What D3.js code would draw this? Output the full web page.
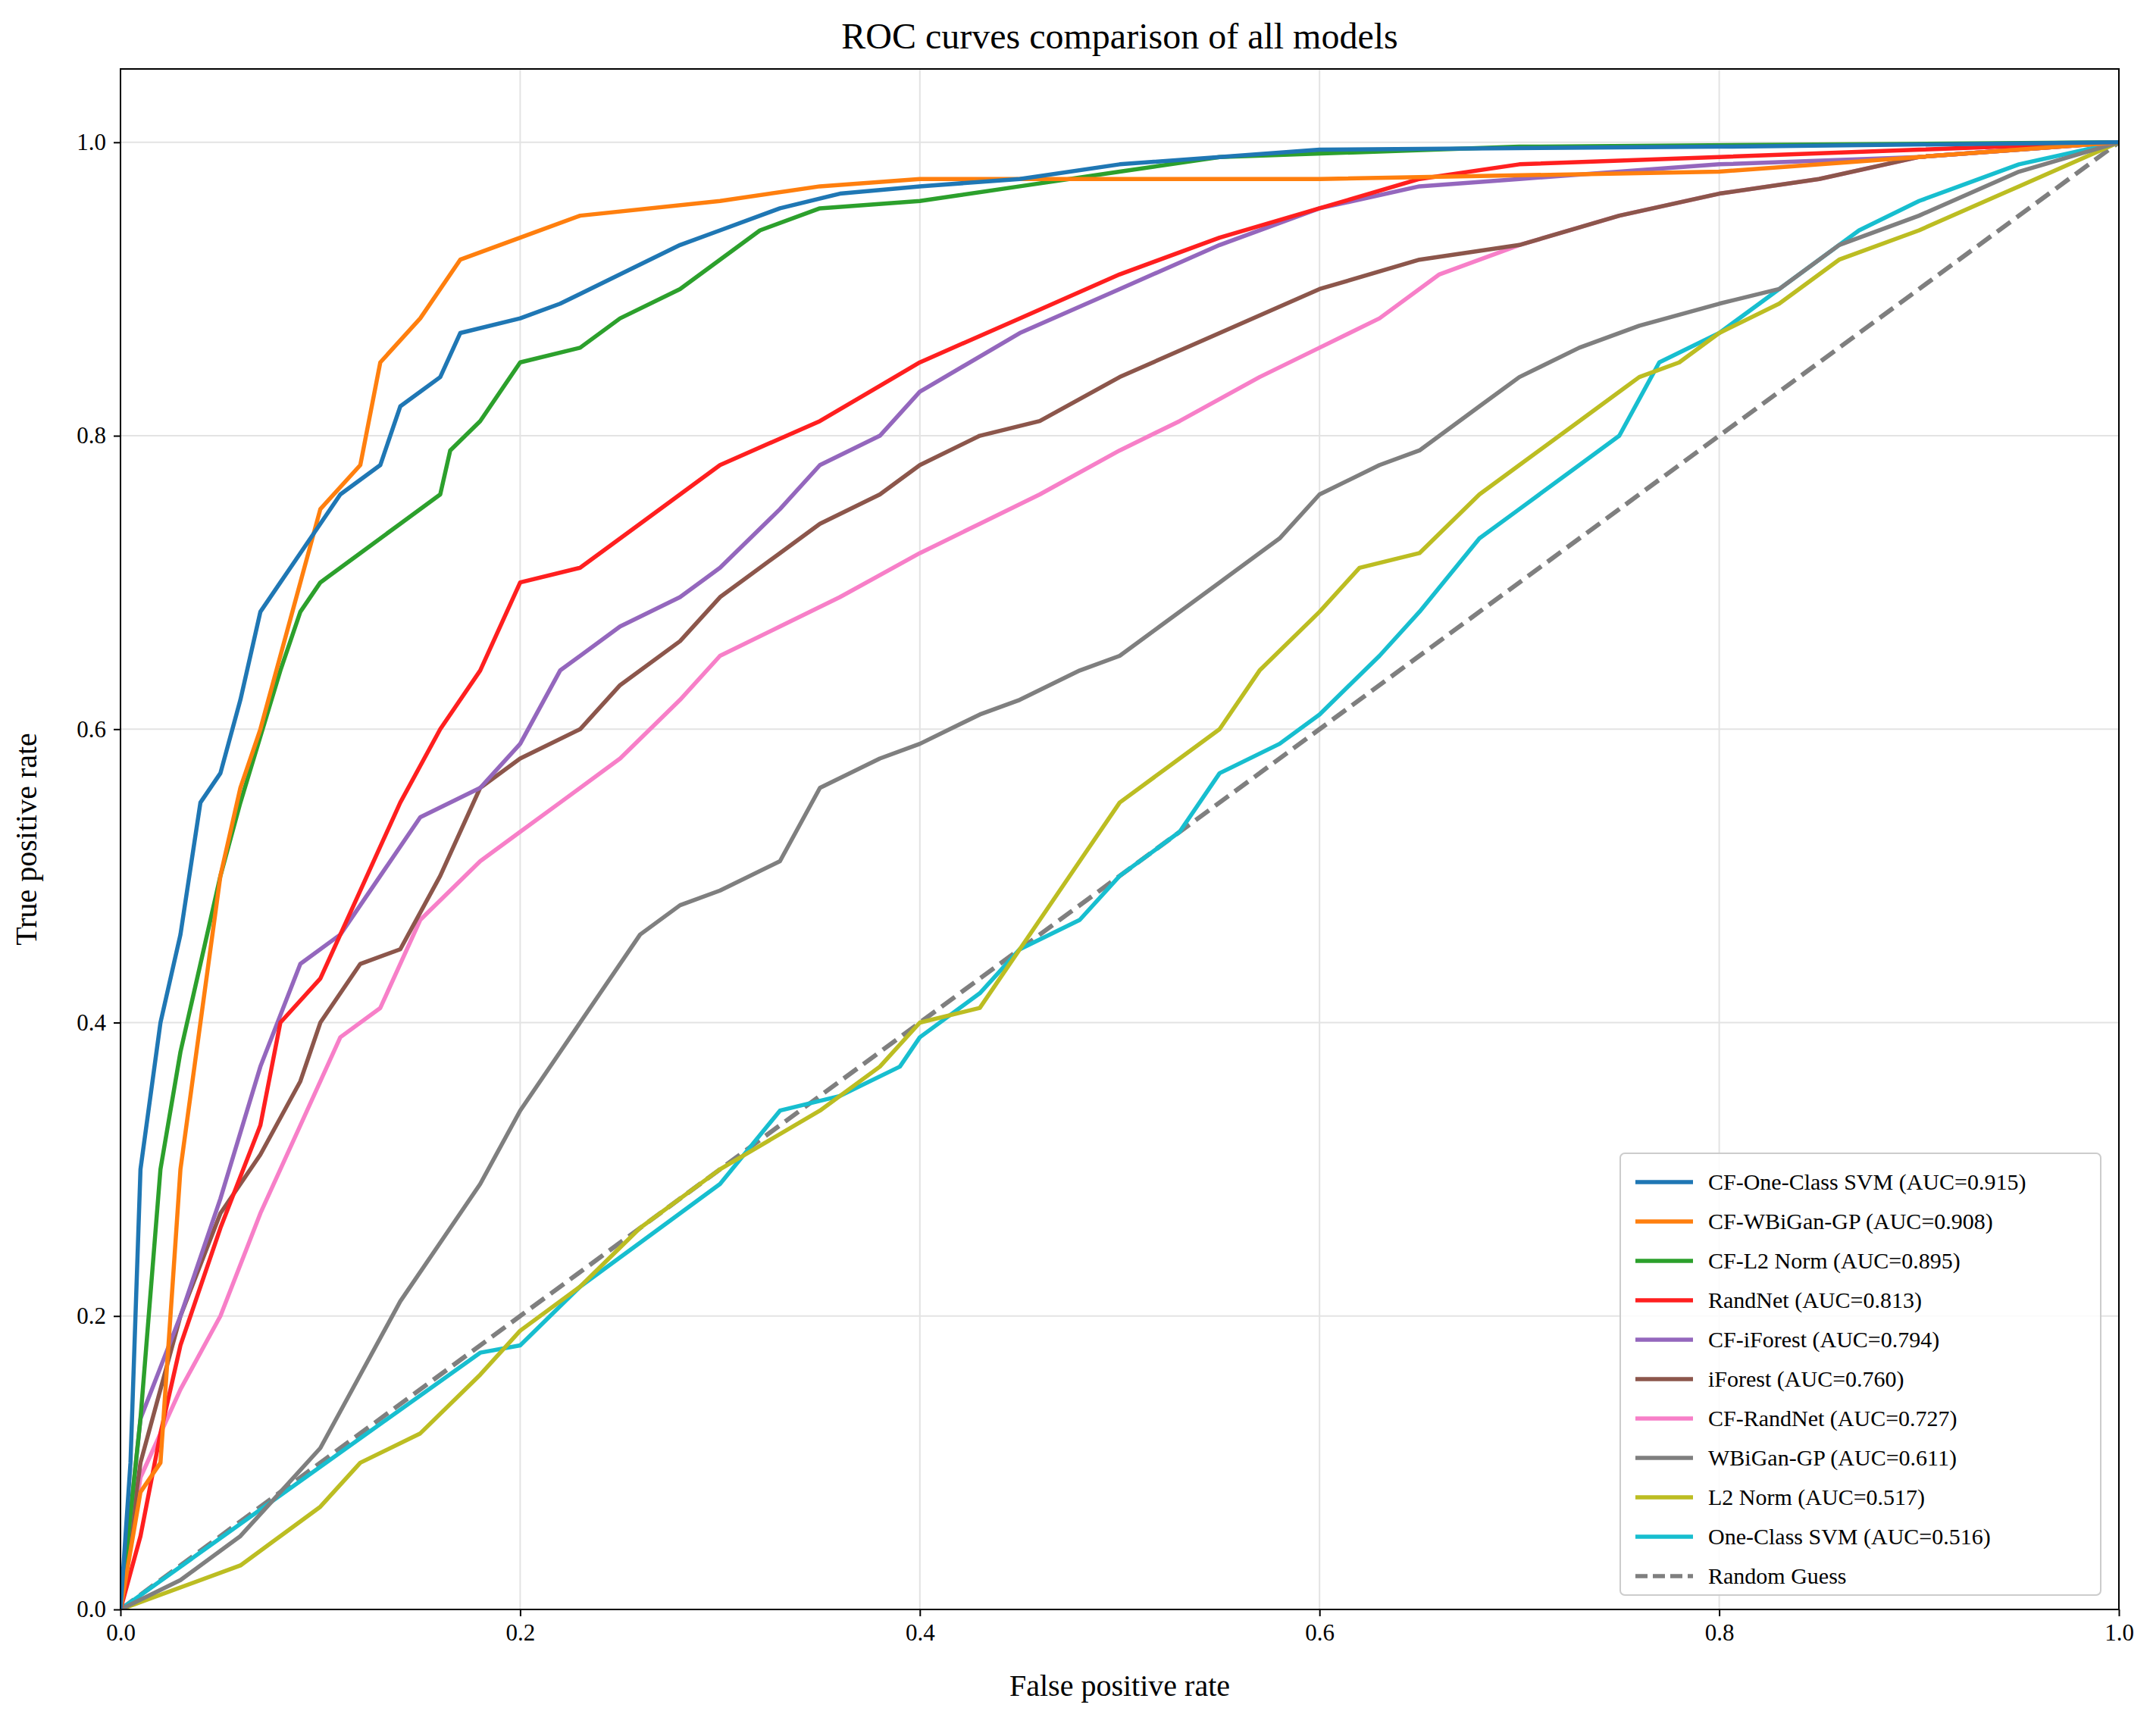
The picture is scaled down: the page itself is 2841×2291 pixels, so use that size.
<!DOCTYPE html>
<html><head><meta charset="utf-8">
<script src="https://cdn.jsdelivr.net/npm/d3@7/dist/d3.min.js"></script>
<style>body{margin:0;background:#fff}text{font-family:"Liberation Serif","DejaVu Serif",serif}</style>
</head><body><svg id="root" width="2841" height="2291"></svg>
<script>
const xTicks = [0, 0.2, 0.4, 0.6, 0.8, 1.0]
const yTicks = [0, 0.2, 0.4, 0.6, 0.8, 1.0]
const names = ['CF-One-Class SVM (AUC=0.915)', 'CF-WBiGan-GP (AUC=0.908)', 'CF-L2 Norm (AUC=0.895)', 'RandNet (AUC=0.813)', 'CF-iForest (AUC=0.794)', 'iForest (AUC=0.760)', 'CF-RandNet (AUC=0.727)', 'WBiGan-GP (AUC=0.611)', 'L2 Norm (AUC=0.517)', 'One-Class SVM (AUC=0.516)']
const colors = ['#1f77b4', '#ff7f0e', '#2ca02c', '#ff1f1f', '#9467bd', '#8c564b', '#f77fc8', '#7f7f7f', '#bcbd22', '#17becf']
const cfSvm = [[0,0],[0.005,0.1],[0.01,0.3],[0.02,0.4],[0.03,0.46],[0.04,0.55],[0.05,0.57],[0.06,0.62],[0.07,0.68],[0.08,0.7],[0.09,0.72],[0.1,0.74],[0.11,0.76],[0.13,0.78],[0.14,0.82],[0.16,0.84],[0.17,0.87],[0.2,0.88],[0.22,0.89],[0.25,0.91],[0.28,0.93],[0.3,0.94],[0.33,0.955],[0.36,0.965],[0.4,0.97],[0.45,0.975],[0.5,0.985],[0.55,0.99],[0.6,0.995],[0.8,0.997],[1,1]]
const cfWbigan = [[0,0],[0.01,0.08],[0.02,0.1],[0.025,0.2],[0.03,0.3],[0.04,0.4],[0.05,0.5],[0.06,0.56],[0.07,0.6],[0.08,0.65],[0.09,0.7],[0.1,0.75],[0.12,0.78],[0.13,0.85],[0.15,0.88],[0.17,0.92],[0.2,0.935],[0.23,0.95],[0.3,0.96],[0.35,0.97],[0.4,0.975],[0.6,0.975],[0.8,0.98],[0.9,0.99],[1,1]]
const cfL2 = [[0,0],[0.01,0.13],[0.02,0.3],[0.03,0.38],[0.04,0.44],[0.05,0.5],[0.06,0.55],[0.08,0.64],[0.09,0.68],[0.1,0.7],[0.12,0.72],[0.14,0.74],[0.16,0.76],[0.165,0.79],[0.18,0.81],[0.2,0.85],[0.23,0.86],[0.25,0.88],[0.28,0.9],[0.3,0.92],[0.32,0.94],[0.35,0.955],[0.4,0.96],[0.45,0.97],[0.5,0.98],[0.55,0.99],[0.7,0.997],[1,1]]
const randNet = [[0,0],[0.01,0.05],[0.02,0.12],[0.03,0.18],[0.05,0.26],[0.07,0.33],[0.08,0.4],[0.1,0.43],[0.12,0.49],[0.14,0.55],[0.16,0.6],[0.18,0.64],[0.2,0.7],[0.23,0.71],[0.26,0.74],[0.3,0.78],[0.35,0.81],[0.4,0.85],[0.45,0.88],[0.5,0.91],[0.55,0.935],[0.6,0.955],[0.65,0.975],[0.7,0.985],[0.8,0.99],[0.9,0.995],[1,1]]
const cfIforest = [[0,0],[0.01,0.13],[0.03,0.2],[0.05,0.28],[0.07,0.37],[0.09,0.44],[0.11,0.46],[0.13,0.5],[0.15,0.54],[0.18,0.56],[0.2,0.59],[0.22,0.64],[0.25,0.67],[0.28,0.69],[0.3,0.71],[0.33,0.75],[0.35,0.78],[0.38,0.8],[0.4,0.83],[0.45,0.87],[0.5,0.9],[0.55,0.93],[0.6,0.955],[0.65,0.97],[0.7,0.975],[0.8,0.985],[0.9,0.99],[1,1]]
const iforest = [[0,0],[0.01,0.1],[0.03,0.2],[0.05,0.27],[0.07,0.31],[0.09,0.36],[0.1,0.4],[0.12,0.44],[0.14,0.45],[0.16,0.5],[0.18,0.56],[0.2,0.58],[0.23,0.6],[0.25,0.63],[0.28,0.66],[0.3,0.69],[0.33,0.72],[0.35,0.74],[0.38,0.76],[0.4,0.78],[0.43,0.8],[0.46,0.81],[0.5,0.84],[0.55,0.87],[0.6,0.9],[0.65,0.92],[0.7,0.93],[0.75,0.95],[0.8,0.965],[0.85,0.975],[0.9,0.99],[1,1]]
const cfRandNet = [[0,0],[0.01,0.09],[0.03,0.15],[0.05,0.2],[0.07,0.27],[0.09,0.33],[0.11,0.39],[0.13,0.41],[0.15,0.47],[0.18,0.51],[0.2,0.53],[0.22,0.55],[0.25,0.58],[0.28,0.62],[0.3,0.65],[0.33,0.67],[0.36,0.69],[0.4,0.72],[0.43,0.74],[0.46,0.76],[0.5,0.79],[0.53,0.81],[0.57,0.84],[0.6,0.86],[0.63,0.88],[0.66,0.91],[0.7,0.93],[0.75,0.95],[0.8,0.965],[0.85,0.975],[0.9,0.99],[1,1]]
const wbigan = [[0,0],[0.03,0.02],[0.06,0.05],[0.08,0.08],[0.1,0.11],[0.12,0.16],[0.14,0.21],[0.16,0.25],[0.18,0.29],[0.2,0.34],[0.22,0.38],[0.24,0.42],[0.26,0.46],[0.28,0.48],[0.3,0.49],[0.33,0.51],[0.35,0.56],[0.38,0.58],[0.4,0.59],[0.43,0.61],[0.45,0.62],[0.48,0.64],[0.5,0.65],[0.52,0.67],[0.55,0.7],[0.58,0.73],[0.6,0.76],[0.63,0.78],[0.65,0.79],[0.68,0.82],[0.7,0.84],[0.73,0.86],[0.76,0.875],[0.8,0.89],[0.83,0.9],[0.86,0.93],[0.9,0.95],[0.95,0.98],[1,1]]
const l2 = [[0,0],[0.06,0.03],[0.08,0.05],[0.1,0.07],[0.12,0.1],[0.15,0.12],[0.18,0.16],[0.2,0.19],[0.23,0.22],[0.26,0.26],[0.3,0.3],[0.35,0.34],[0.38,0.37],[0.4,0.4],[0.43,0.41],[0.45,0.45],[0.48,0.51],[0.5,0.55],[0.53,0.58],[0.55,0.6],[0.57,0.64],[0.6,0.68],[0.62,0.71],[0.65,0.72],[0.68,0.76],[0.7,0.78],[0.73,0.81],[0.76,0.84],[0.78,0.85],[0.8,0.87],[0.83,0.89],[0.86,0.92],[0.9,0.94],[0.95,0.97],[1,1]]
const svm = [[0,0],[0.18,0.175],[0.2,0.18],[0.23,0.22],[0.26,0.25],[0.3,0.29],[0.33,0.34],[0.36,0.35],[0.39,0.37],[0.4,0.39],[0.43,0.42],[0.45,0.45],[0.48,0.47],[0.5,0.5],[0.53,0.53],[0.55,0.57],[0.58,0.59],[0.6,0.61],[0.63,0.65],[0.65,0.68],[0.68,0.73],[0.7,0.75],[0.73,0.78],[0.75,0.8],[0.77,0.85],[0.8,0.87],[0.83,0.9],[0.87,0.94],[0.9,0.96],[0.95,0.985],[1,1]]
const series = [cfSvm, cfWbigan, cfL2, randNet, cfIforest, iforest, cfRandNet, wbigan, l2, svm]
const guess = [[0,0],[1,1]]

const L = 159, R = 2796, T = 91, B = 2124
const root = d3.select('#root')
const x = d3.scaleLinear().domain([0, 1]).range([L, R])
const y = d3.scaleLinear().domain([0, 1.05]).range([B, T])

// grid
root.append('g').selectAll('line').data(xTicks).enter().append('line')
  .attr('x1', d => x(d)).attr('x2', d => x(d)).attr('y1', T).attr('y2', B)
  .attr('stroke', '#e3e3e3').attr('stroke-width', 2)
root.append('g').selectAll('line').data(yTicks).enter().append('line')
  .attr('y1', d => y(d)).attr('y2', d => y(d)).attr('x1', L).attr('x2', R)
  .attr('stroke', '#e3e3e3').attr('stroke-width', 2)

const line = d3.line().x(d => x(d[0])).y(d => y(d[1]))
const clip = root.append('clipPath').attr('id', 'c').append('rect')
  .attr('x', L).attr('y', T).attr('width', R - L).attr('height', B - T)
const plot = root.append('g').attr('clip-path', 'url(#c)')
plot.append('path').attr('d', line(guess)).attr('fill', 'none')
  .attr('stroke', '#7f7f7f').attr('stroke-width', 6).attr('stroke-dasharray', '22,10')
series.slice().reverse().forEach((s, i) => {
  plot.append('path').attr('d', line(s)).attr('fill', 'none')
    .attr('stroke', colors[series.length - 1 - i]).attr('stroke-width', 5.5)
    .attr('stroke-linejoin', 'round')
})

// axes
const ax = root.append('g').attr('transform', `translate(0,${B})`)
  .call(d3.axisBottom(x).tickValues(xTicks).tickFormat(d3.format('.1f')).tickSize(9).tickPadding(10))
const ay = root.append('g').attr('transform', `translate(${L},0)`)
  .call(d3.axisLeft(y).tickValues(yTicks).tickFormat(d3.format('.1f')).tickSize(9).tickPadding(10))
;[ax, ay].forEach(a => {
  a.select('.domain').remove()
  a.selectAll('line').attr('stroke-width', 2)
  a.selectAll('text').attr('font-size', 31).attr('font-family', 'Liberation Serif')
})
root.append('rect').attr('x', L).attr('y', T).attr('width', R - L).attr('height', B - T)
  .attr('fill', 'none').attr('stroke', '#000').attr('stroke-width', 2)

root.append('text').attr('x', (L + R) / 2).attr('y', 64).attr('text-anchor', 'middle')
  .attr('font-size', 48).text('ROC curves comparison of all models')
root.append('text').attr('x', (L + R) / 2).attr('y', 2238).attr('text-anchor', 'middle')
  .attr('font-size', 40).text('False positive rate')
root.append('text').attr('transform', `translate(48,${(T + B) / 2}) rotate(-90)`)
  .attr('text-anchor', 'middle').attr('font-size', 40).text('True positive rate')

// legend
const lg = root.append('g').attr('transform', 'translate(2138,1522)')
lg.append('rect').attr('width', 634).attr('height', 583).attr('rx', 6)
  .attr('fill', '#fff').attr('fill-opacity', 0.85).attr('stroke', '#ccc').attr('stroke-width', 2)
const items = names.map((n, i) => ({ n, c: colors[i], dash: null }))
items.push({ n: 'Random Guess', c: '#7f7f7f', dash: '16,7' })
const rows = lg.selectAll('g').data(items).enter().append('g')
  .attr('transform', (d, i) => `translate(0,${38 + i * 52})`)
rows.append('line').attr('x1', 20).attr('x2', 96).attr('stroke', d => d.c)
  .attr('stroke-width', 5.5).attr('stroke-dasharray', d => d.dash)
rows.append('text').attr('x', 116).attr('y', 10).attr('font-size', 30).text(d => d.n)
</script></body></html>
